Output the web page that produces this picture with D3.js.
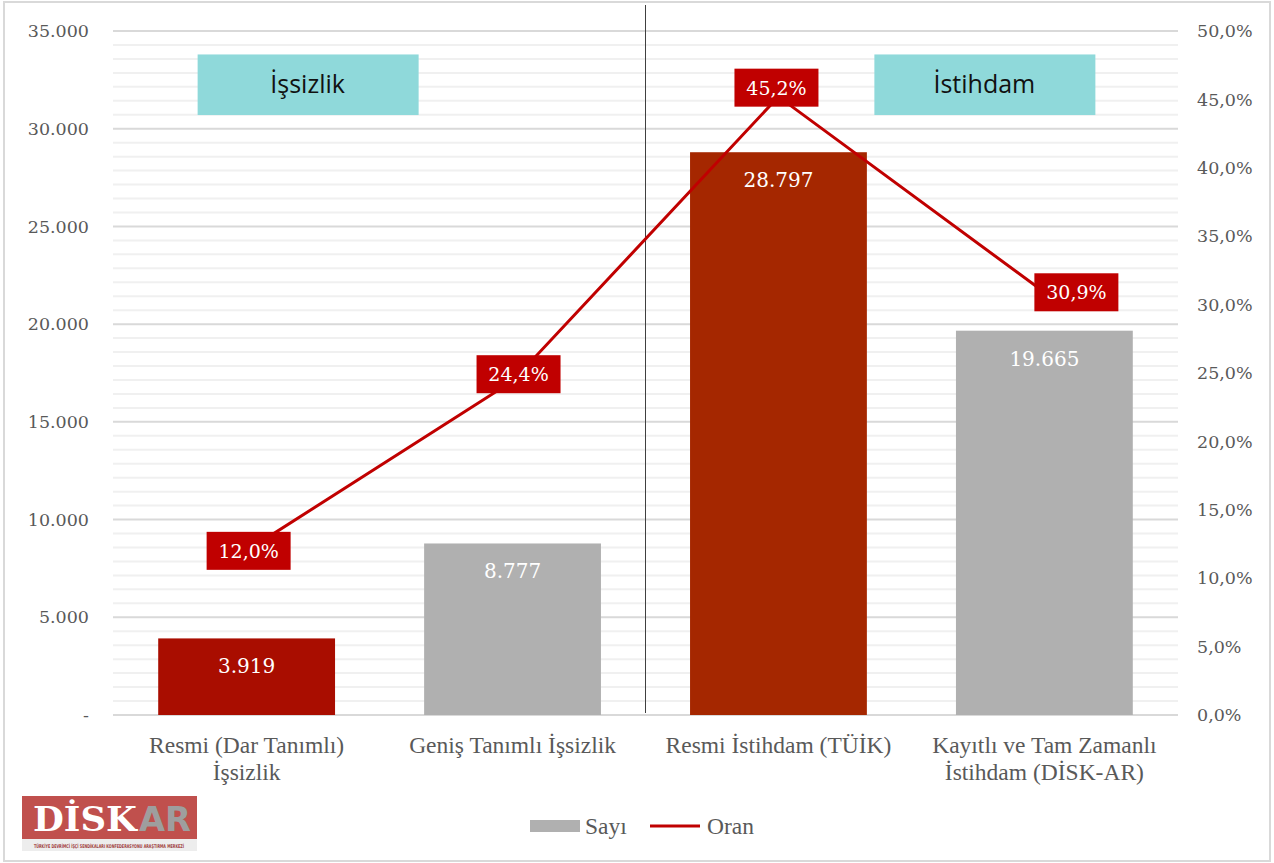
<!DOCTYPE html>
<html>
<head>
<meta charset="utf-8">
<script src="https://cdn.jsdelivr.net/npm/d3@7"></script>
<style>
  body { margin: 0; background: #fff; }
  svg { display: block; }
</style>
</head>
<body>
<div id="chart"></div>
<script>
// data
const categories = [
  ["Resmi (Dar Tanımlı)", "İşsizlik"],
  ["Geniş Tanımlı İşsizlik"],
  ["Resmi İstihdam (TÜİK)"],
  ["Kayıtlı ve Tam Zamanlı", "İstihdam (DİSK-AR)"]
];
const sayi = [3919, 8777, 28797, 19665];
const oran = [12.0, 24.4, 45.2, 30.9];
const barColors = ["#A90D00", "#B0B0B0", "#A52700", "#B0B0B0"];
const leftTicks = [0, 5000, 10000, 15000, 20000, 25000, 30000, 35000];
const rightTicks = [0, 5, 10, 15, 20, 25, 30, 35, 40, 45, 50];
const groupLabels = ["İşsizlik", "İstihdam"];

const W = 1274, H = 863;
const margin = {top: 31, right: 96, bottom: 148, left: 113};
const width = W - margin.left - margin.right;
const height = H - margin.top - margin.bottom;

const svg = d3.select("#chart").append("svg")
    .attr("width", W)
    .attr("height", H);

// outer frame
svg.append("rect")
    .attr("x", 4).attr("y", 2)
    .attr("width", W - 8).attr("height", H - 4)
    .attr("fill", "#fff")
    .attr("stroke", "#D9D9D9")
    .attr("stroke-width", 2);

const g = svg.append("g")
    .attr("transform", "translate(" + margin.left + "," + margin.top + ")");

const x = d3.scaleBand()
    .domain(d3.range(categories.length))
    .range([0, width])
    .paddingInner(0.335)
    .paddingOuter(0.17);

const y = d3.scaleLinear().domain([0, 35000]).range([height, 0]);
const y2 = d3.scaleLinear().domain([0, 50]).range([height, 0]);

// minor gridlines (7 per major step)
const minor = [];
for (let i = 0; i < leftTicks.length - 1; i++) {
    for (let k = 1; k < 7; k++) minor.push(leftTicks[i] + k * 5000 / 7);
}
g.selectAll(".minor")
    .data(minor)
    .enter().append("line")
    .attr("x1", 0).attr("x2", width)
    .attr("y1", d => y(d)).attr("y2", d => y(d))
    .attr("stroke", "#F0F0F0")
    .attr("stroke-width", 2);

g.selectAll(".major")
    .data(leftTicks)
    .enter().append("line")
    .attr("x1", 0).attr("x2", width)
    .attr("y1", d => y(d)).attr("y2", d => y(d))
    .attr("stroke", "#D9D9D9")
    .attr("stroke-width", 2);

// left axis
const fmt = d => d === 0 ? "-" : d3.format(",")(d).replace(/,/g, ".");
g.append("g")
    .attr("class", "axis y-axis")
    .call(d3.axisLeft(y).tickValues(leftTicks).tickSize(0).tickPadding(24).tickFormat(fmt))
    .call(a => a.select(".domain").remove())
    .selectAll("text")
    .style("font-family", "'DejaVu Serif', serif")
    .style("font-size", "17.5px")
    .attr("fill", "#595959");

// right axis
g.append("g")
    .attr("class", "axis y2-axis")
    .attr("transform", "translate(" + width + ",0)")
    .call(d3.axisRight(y2).tickValues(rightTicks).tickSize(0).tickPadding(19)
        .tickFormat(d => d.toFixed(1).replace(".", ",") + "%"))
    .call(a => a.select(".domain").remove())
    .selectAll("text")
    .style("font-family", "'DejaVu Serif', serif")
    .style("font-size", "17.5px")
    .attr("fill", "#595959");

// separator
g.append("line")
    .attr("x1", width / 2).attr("x2", width / 2)
    .attr("y1", -26).attr("y2", height - 2)
    .attr("stroke", "#404040")
    .attr("stroke-width", 1);

// bars
g.selectAll(".bar")
    .data(sayi)
    .enter().append("rect")
    .attr("class", "bar")
    .attr("x", (d, i) => x(i))
    .attr("y", d => y(d))
    .attr("width", x.bandwidth())
    .attr("height", d => height - y(d))
    .attr("fill", (d, i) => barColors[i]);

g.selectAll(".barlabel")
    .data(sayi)
    .enter().append("text")
    .attr("x", (d, i) => x(i) + x.bandwidth() / 2)
    .attr("y", d => y(d) + 35)
    .attr("text-anchor", "middle")
    .style("font-family", "'DejaVu Serif', serif")
    .style("font-size", "20px")
    .attr("fill", "#fff")
    .text(d => fmt(d));

// category labels
const cat = g.selectAll(".cat")
    .data(categories)
    .enter().append("text")
    .attr("x", (d, i) => x(i) + x.bandwidth() / 2)
    .attr("y", height + 38)
    .attr("text-anchor", "middle")
    .style("font-family", "'Liberation Serif', serif")
    .style("font-size", "23.5px")
    .attr("fill", "#595959");
cat.selectAll("tspan")
    .data(d => d)
    .enter().append("tspan")
    .attr("x", function () { return this.parentNode.getAttribute("x"); })
    .attr("dy", (d, i) => i === 0 ? 0 : 27)
    .text(d => d);

// group boxes
const boxCenters = [x(0) + x.bandwidth() / 2 + 61, x(3) + x.bandwidth() / 2 - 60];
groupLabels.forEach((lab, i) => {
    const cx = boxCenters[i];
    g.append("rect")
        .attr("x", cx - 110).attr("y", y(33800))
        .attr("width", 221).attr("height", y(30700) - y(33800))
        .attr("fill", "#8FD9DA");
    g.append("text")
        .attr("x", cx).attr("y", y(33800) + 39)
        .attr("text-anchor", "middle")
        .style("font-family", "'Open Sans', sans-serif")
        .style("font-size", "25px")
        .attr("fill", "#111")
        .text(lab);
});

// line
const line = d3.line()
    .x((d, i) => x(i) + x.bandwidth() / 2)
    .y(d => y2(d));

g.append("path")
    .datum(oran)
    .attr("d", line)
    .attr("fill", "none")
    .attr("stroke", "#C00000")
    .attr("stroke-width", 3);

// label nudges as placed in the original
const nudge = [[2, 0], [6, -7], [-2, -9], [32, 0]];
const lbl = g.selectAll(".oranlabel")
    .data(oran)
    .enter().append("g")
    .attr("transform", (d, i) => "translate(" + (x(i) + x.bandwidth() / 2 + nudge[i][0]) + "," + (y2(d) + nudge[i][1]) + ")");
lbl.append("rect")
    .attr("x", -42).attr("y", -19)
    .attr("width", 84).attr("height", 38)
    .attr("fill", "#C00000");
lbl.append("text")
    .attr("text-anchor", "middle")
    .attr("y", 7)
    .style("font-family", "'DejaVu Serif', serif")
    .style("font-size", "19px")
    .attr("fill", "#fff")
    .text(d => d.toFixed(1).replace(".", ",") + "%");

// legend
const legend = svg.append("g").attr("transform", "translate(530,826)");
legend.append("rect")
    .attr("x", 0).attr("y", -6)
    .attr("width", 50).attr("height", 12)
    .attr("fill", "#B0B0B0");
legend.append("text")
    .attr("x", 55).attr("y", 8)
    .style("font-family", "'Liberation Serif', serif")
    .style("font-size", "23.5px")
    .attr("fill", "#595959")
    .text("Sayı");
legend.append("line")
    .attr("x1", 120).attr("x2", 170)
    .attr("y1", 0).attr("y2", 0)
    .attr("stroke", "#C00000")
    .attr("stroke-width", 3);
legend.append("text")
    .attr("x", 177).attr("y", 8)
    .style("font-family", "'Liberation Serif', serif")
    .style("font-size", "23.5px")
    .attr("fill", "#595959")
    .text("Oran");

// logo
const logo = svg.append("g").attr("transform", "translate(22,796)");
logo.append("rect")
    .attr("width", 175).attr("height", 55)
    .attr("fill", "#C0504D");
logo.append("rect")
    .attr("y", 43).attr("width", 175).attr("height", 12)
    .attr("fill", "#EDEDED");
logo.append("text")
    .attr("x", 11).attr("y", 35)
    .attr("textLength", 104)
    .attr("lengthAdjust", "spacingAndGlyphs")
    .style("font-family", "'DejaVu Serif', serif")
    .style("font-weight", "bold")
    .style("font-size", "34px")
    .attr("fill", "#fff")
    .text("DİSK");
logo.append("text")
    .attr("x", 117).attr("y", 35)
    .attr("textLength", 52)
    .attr("lengthAdjust", "spacingAndGlyphs")
    .style("font-family", "'DejaVu Sans', sans-serif")
    .style("font-weight", "bold")
    .style("font-size", "34px")
    .attr("fill", "#9E9E9E")
    .text("AR");
logo.append("text")
    .attr("x", 87).attr("y", 52)
    .attr("text-anchor", "middle")
    .attr("textLength", 150)
    .attr("lengthAdjust", "spacingAndGlyphs")
    .style("font-family", "'DejaVu Sans Condensed', sans-serif")
    .style("font-weight", "bold")
    .style("font-size", "5px")
    .attr("fill", "#A0403D")
    .text("TÜRKİYE DEVRİMCİ İŞÇİ SENDİKALARI KONFEDERASYONU ARAŞTIRMA MERKEZİ");
</script>
</body>
</html>
